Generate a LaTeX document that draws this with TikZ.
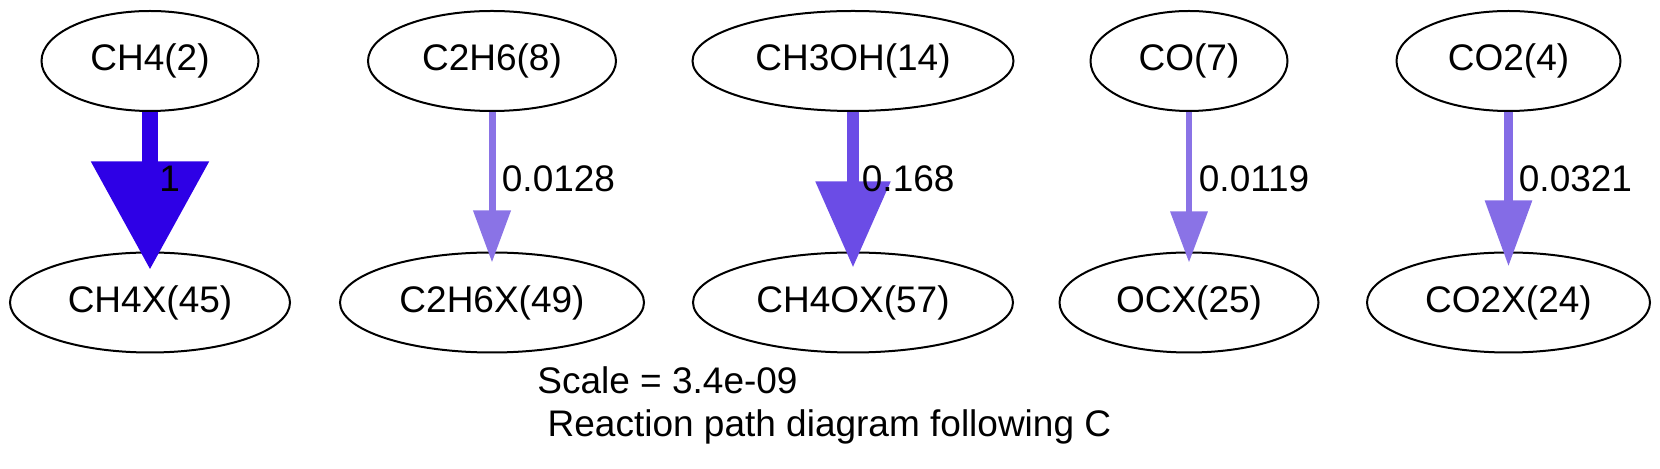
\documentclass[tikz,border=0pt]{standalone}
\usepackage{fontspec}
\setmainfont{Liberation Sans}
\usetikzlibrary{arrows.meta, shapes.geometric}
\definecolor{R1}{RGB}{46,0,230}
\definecolor{R2}{RGB}{138,115,230}
\definecolor{R3}{RGB}{107,76,230}
\definecolor{R4}{RGB}{138,115,230}
\definecolor{R5}{RGB}{132,108,230}

\begin{document}
\begin{tikzpicture}[x=0.5pt, y=-0.5pt,
  species/.style={draw=black, line width=1pt, ellipse, inner sep=0pt,
                  minimum height=50pt, font=\fontsize{18.5}{22}\selectfont},
  flux/.style={font=\fontsize{18.5}{22}\selectfont, anchor=base west, inner sep=0pt},
  caption/.style={font=\fontsize{18.5}{22}\selectfont, anchor=base west, inner sep=0pt}
]
\useasboundingbox (0,0) rectangle (1660,469);

% gas phase species
\node[species, minimum width=108.5pt] (ch4)   at (150,61)    {CH4(2)};
\node[species, minimum width=124pt]   (c2h6)  at (492,61)    {C2H6(8)};
\node[species, minimum width=160.5pt] (ch3oh) at (853,61)    {CH3OH(14)};
\node[species, minimum width=98.5pt]  (co)    at (1189,61)   {CO(7)};
\node[species, minimum width=112pt]   (co2)   at (1508.5,61) {CO2(4)};

% adsorbed species
\node[species, minimum width=140pt]   (ch4x)  at (150,302.5)    {CH4X(45)};
\node[species, minimum width=152pt]   (c2h6x) at (492,302.5)    {C2H6X(49)};
\node[species, minimum width=160pt]   (ch4ox) at (853,302.5)    {CH4OX(57)};
\node[species, minimum width=129.5pt] (ocx)   at (1189,302.5)   {OCX(25)};
\node[species, minimum width=141.5pt] (co2x)  at (1508.5,302.5) {CO2X(24)};

% fluxes
\draw[R1, line width=8pt, -{Triangle[length=54pt, width=57pt]}]
  (ch4.south) -- ([yshift=-9pt]ch4x.north);
\draw[R2, line width=3.5pt, -{Triangle[length=26pt, width=18pt]}]
  (c2h6.south) -- ([yshift=-5.5pt]c2h6x.north);
\draw[R3, line width=6pt, -{Triangle[length=43pt, width=36pt]}]
  (ch3oh.south) -- ([yshift=-8pt]ch4ox.north);
\draw[R4, line width=3.25pt, -{Triangle[length=25.5pt, width=18pt]}]
  (co.south) -- ([yshift=-5.5pt]ocx.north);
\draw[R5, line width=4.5pt, -{Triangle[length=33pt, width=22.5pt]}]
  (co2.south) -- ([yshift=-7.5pt]co2x.north);

\node[flux] (f1) at (159,192)    {1};
\node[flux] (f2) at (501.5,192)  {0.0128};
\node[flux] (f3) at (861.5,192)  {0.168};
\node[flux] (f4) at (1198.5,192) {0.0119};
\node[flux] (f5) at (1518.5,192) {0.0321};

\node[caption] (scale) at (537,394) {Scale = 3.4e-09};
\node[caption] (title) at (537,437) {\ Reaction path diagram following C};
\end{tikzpicture}
\end{document}
